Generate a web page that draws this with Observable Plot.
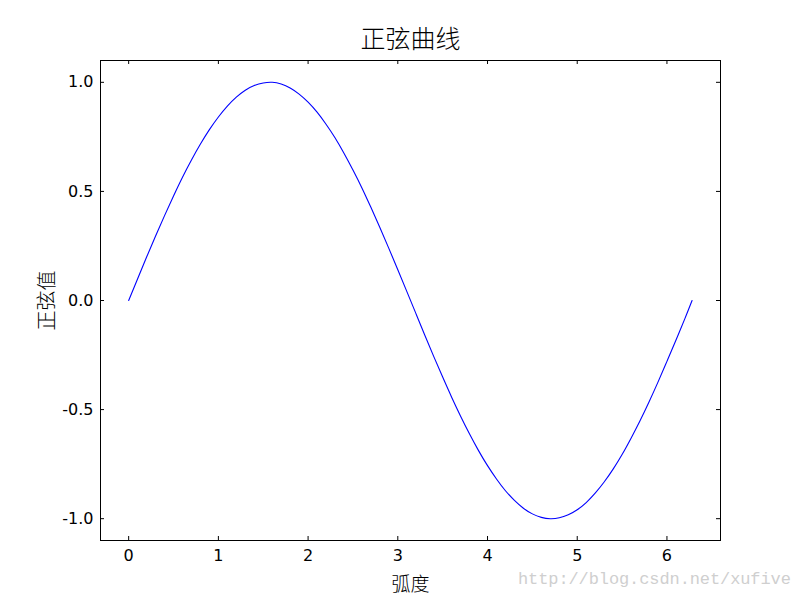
<!DOCTYPE html>
<html>
<head>
<meta charset="utf-8">
<script src="https://cdn.jsdelivr.net/npm/d3@7"></script>
<script src="https://cdn.jsdelivr.net/npm/@observablehq/plot@0.6"></script>
<style>
  html, body { margin: 0; padding: 0; background: #fff; }
  #chart { position: relative; width: 800px; height: 600px; }
  #wm { position: absolute; left: 518px; top: 570px; font-family: "Liberation Mono", "DejaVu Sans Mono", monospace; font-size: 17px; letter-spacing: -0.1px; color: #cfcfcf; }
</style>
</head>
<body>
<div id="chart"></div>
<script>
const xs = [0.0, 0.1, 0.2, 0.3, 0.4, 0.5, 0.6, 0.7, 0.8, 0.9, 1.0, 1.1, 1.2, 1.3, 1.4, 1.5, 1.6, 1.7, 1.8, 1.9, 2.0, 2.1, 2.2, 2.3, 2.4, 2.5, 2.6, 2.7, 2.8, 2.9, 3.0, 3.1, 3.2, 3.3, 3.4, 3.5, 3.6, 3.7, 3.8, 3.9, 4.0, 4.1, 4.2, 4.3, 4.4, 4.5, 4.6, 4.7, 4.8, 4.9, 5.0, 5.1, 5.2, 5.3, 5.4, 5.5, 5.6, 5.7, 5.8, 5.9, 6.0, 6.1, 6.2, 6.28];
const ys = [0.000, 0.100, 0.199, 0.296, 0.389, 0.479, 0.565, 0.644, 0.717, 0.783, 0.841, 0.891, 0.932, 0.964, 0.985, 0.997, 1.000, 0.992, 0.974, 0.946, 0.909, 0.863, 0.808, 0.746, 0.675, 0.598, 0.516, 0.427, 0.335, 0.239, 0.141, 0.042, -0.058, -0.158, -0.256, -0.351, -0.443, -0.530, -0.612, -0.688, -0.757, -0.818, -0.872, -0.916, -0.952, -0.978, -0.994, -1.000, -0.996, -0.982, -0.959, -0.926, -0.883, -0.832, -0.773, -0.706, -0.631, -0.551, -0.465, -0.374, -0.279, -0.182, -0.083, 0.000];
const xTicks = [0, 1, 2, 3, 4, 5, 6];
const yTicks = [-1.0, -0.5, 0.0, 0.5, 1.0];
const title = "正弦曲线";
const xLabel = "弧度";
const yLabel = "正弦值";
const watermark = "http://blog.csdn.net/xufive";

const data = xs.map((x, i) => ({x, y: ys[i]}));
const W = 800, H = 600, mL = 100, mR = 80, mT = 60, mB = 60;
const pw = W - mL - mR, ph = H - mT - mB;
const tl = 4;
const cjk = "'Noto Sans CJK SC', sans-serif";

const chart = Plot.plot({
  width: W, height: H,
  marginLeft: mL, marginRight: mR, marginTop: mT, marginBottom: mB,
  style: {fontFamily: "'DejaVu Sans', sans-serif", fontSize: "16px", color: "#000", background: "#fff"},
  x: {domain: [-0.314, 6.597]},
  y: {domain: [-1.1, 1.1]},
  marks: [
    Plot.line(data, {x: "x", y: "y", stroke: "#0000ff", strokeWidth: 1.1, curve: "natural"}),
    Plot.tickX(xTicks, {x: d => d, insetTop: ph - tl, stroke: "#000"}),
    Plot.tickX(xTicks, {x: d => d, insetBottom: ph - tl, stroke: "#000"}),
    Plot.tickY(yTicks, {y: d => d, insetRight: pw - tl, stroke: "#000"}),
    Plot.tickY(yTicks, {y: d => d, insetLeft: pw - tl, stroke: "#000"}),
    Plot.axisX(xTicks, {tickSize: 0, tickPadding: 9, label: null, fontSize: 16, tickFormat: d => String(d)}),
    Plot.axisY(yTicks, {tickSize: 0, tickPadding: 7, label: null, fontSize: 16, tickFormat: d => d.toFixed(1)}),
    Plot.frame({stroke: "#000", strokeWidth: 1}),
    Plot.text([title], {frameAnchor: "top", lineAnchor: "top", dy: -30, fontFamily: cjk, fontSize: 25, fontWeight: 300, fill: "#000", letterSpacing: 4}),
    Plot.text([xLabel], {frameAnchor: "bottom", lineAnchor: "bottom", dy: 50, fontFamily: cjk, fontSize: 19, fontWeight: 300, fill: "#000", letterSpacing: 2}),
    Plot.text([yLabel], {frameAnchor: "left", textAnchor: "middle", lineAnchor: "middle", dx: -53, rotate: -90, fontFamily: cjk, fontSize: 20, fontWeight: 300, fill: "#000", letterSpacing: 3})
  ]
});
document.getElementById("chart").appendChild(chart);
const wm = document.createElement("div");
wm.id = "wm";
wm.textContent = watermark;
document.getElementById("chart").appendChild(wm);
</script>
</body>
</html>
